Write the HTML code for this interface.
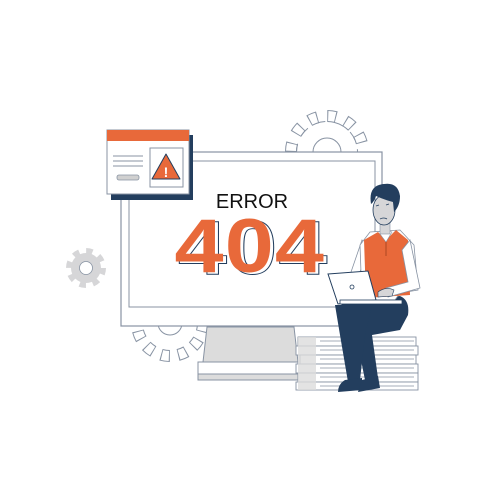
<!DOCTYPE html>
<html><head><style>html,body{margin:0;padding:0;background:#fff}svg{display:block}</style></head>
<body>
<svg width="500" height="500" viewBox="0 0 500 500" xmlns="http://www.w3.org/2000/svg" font-family="Liberation Sans, sans-serif">
<!-- top gear -->
<g>
<circle cx="327" cy="152" r="36" fill="none" stroke="#8893a3" stroke-width="12" stroke-dasharray="9 9.85"/>
<circle cx="327" cy="152" r="36" fill="none" stroke="#fff" stroke-width="10" stroke-dasharray="7 11.85" stroke-dashoffset="-1"/>
<circle cx="327" cy="152" r="30.5" fill="none" stroke="#8893a3" stroke-width="1" stroke-dasharray="9.8 9.05"/>
<circle cx="327" cy="152" r="29.5" fill="#fff"/>
<circle cx="327" cy="152" r="14" fill="#fff" stroke="#8893a3" stroke-width="1"/>
</g>
<!-- bottom gear -->
<g>
<circle cx="170" cy="323" r="33" fill="none" stroke="#8893a3" stroke-width="12" stroke-dasharray="9 8.3"/>
<circle cx="170" cy="323" r="33" fill="none" stroke="#fff" stroke-width="10" stroke-dasharray="7 10.3" stroke-dashoffset="-1"/>
<circle cx="170" cy="323" r="26.5" fill="#fff"/>
<circle cx="170" cy="323" r="12" fill="#fff" stroke="#8893a3" stroke-width="1"/>
</g>
<!-- small gear -->
<circle cx="86" cy="268" r="16" fill="none" stroke="#d6d6d8" stroke-width="8" stroke-dasharray="6 6.57"/>
<circle cx="86" cy="268" r="15" fill="#d6d6d8"/>
<circle cx="86" cy="268" r="6.5" fill="#fff" stroke="#8893a3" stroke-width="0.8"/>
<!-- monitor -->
<rect x="121" y="152" width="261" height="174" fill="#fff" stroke="#8893a3" stroke-width="1.2"/>
<rect x="129" y="161" width="246" height="146" fill="#fff" stroke="#8893a3" stroke-width="1"/>
<polygon points="207,327 294,327 298,362 203,362" fill="#dcdcdc" stroke="#8893a3" stroke-width="1"/>
<rect x="198" y="362" width="100" height="12" fill="#fff" stroke="#8893a3" stroke-width="1"/>
<rect x="198" y="374" width="100" height="6" fill="#dcdcdc" stroke="#8893a3" stroke-width="1"/>
<!-- popup -->
<rect x="111" y="135" width="82" height="65" fill="#233e5e"/>
<rect x="107" y="130" width="82" height="64" fill="#fff" stroke="#8893a3" stroke-width="1"/>
<rect x="107" y="130" width="82" height="11" fill="#e8693a"/>
<line x1="113" y1="156" x2="143" y2="156" stroke="#8893a3"/>
<line x1="113" y1="161" x2="143" y2="161" stroke="#8893a3"/>
<line x1="113" y1="166" x2="143" y2="166" stroke="#8893a3"/>
<rect x="117" y="175" width="22" height="5" rx="2" fill="#d0d0d0" stroke="#8893a3" stroke-width="0.8"/>
<rect x="150" y="148" width="33" height="39" fill="#fff" stroke="#8893a3" stroke-width="1"/>
<polygon points="166,154 180,179 152,179" fill="#e8693a" stroke="#233e5e" stroke-width="1" stroke-linejoin="round"/>
<text x="166" y="177" font-size="14" font-weight="bold" fill="#fff" text-anchor="middle">!</text>
<!-- text -->
<text x="252" y="208" font-size="20" fill="#111" text-anchor="middle">ERROR</text>
<g transform="translate(251 0) scale(1.16 1) translate(-251 0)">
<text x="253" y="274" font-size="76" font-weight="bold" fill="#fff" stroke="#233e5e" stroke-width="0.9" text-anchor="middle" letter-spacing="1">404</text>
<text x="250" y="272" font-size="76" font-weight="bold" fill="#e8693a" text-anchor="middle" letter-spacing="1">404</text>
</g>
<!-- books -->
<g fill="#fff" stroke="#8893a3" stroke-width="0.9">
<rect x="298" y="337" width="118" height="9"/>
<rect x="296" y="346" width="122" height="9"/>
<rect x="300" y="355" width="116" height="9"/>
<rect x="296" y="364" width="122" height="9"/>
<rect x="298" y="373" width="120" height="9"/>
<rect x="296" y="382" width="122" height="8"/>
</g>
<rect x="298" y="337" width="18" height="53" fill="#dcdcdc" opacity="0.8"/>
<g stroke="#8893a3" stroke-width="0.7">
<line x1="320" y1="341" x2="414" y2="341"/><line x1="320" y1="350" x2="414" y2="350"/><line x1="320" y1="359" x2="414" y2="359"/>
<line x1="320" y1="368" x2="414" y2="368"/><line x1="320" y1="377" x2="414" y2="377"/><line x1="320" y1="386" x2="414" y2="386"/>
</g>
<!-- person -->
<path d="M362 240 L350 275 L358 278 L368 248Z" fill="#fff" stroke="#8893a3" stroke-width="0.8"/>
<path d="M340 302 L400 296 Q410 300 408 315 L400 330 L372 335 L378 378 L365 380 L355 330 Z" fill="#233e5e"/>
<path d="M335 305 L372 305 L365 335 L360 380 L348 382 L340 335 Z" fill="#233e5e"/>
<path d="M345 380 L362 378 L362 390 L338 392 Q338 384 345 380Z" fill="#233e5e"/>
<path d="M362 380 L378 376 L380 388 L358 392Z" fill="#233e5e"/>
<path d="M370 232 L400 230 L414 245 L418 290 L400 293 L395 300 L362 300 L360 245 Z" fill="#fff" stroke="#8893a3" stroke-width="0.8"/>
<path d="M364 240 L378 232 L386 240 L396 230 L408 240 L410 295 L366 298 Z" fill="#e8693a"/>
<polygon points="380,234 386,242 392,232 386,230" fill="#fff" stroke="#8893a3" stroke-width="0.6"/>
<line x1="386" y1="242" x2="386" y2="256" stroke="#c0522a" stroke-width="1.5"/>
<path d="M410 240 L420 288 L388 297 L386 288 L408 282 L402 250Z" fill="#fff" stroke="#8893a3" stroke-width="0.8"/>
<polygon points="328,274 368,271 376,300 338,304" fill="#fff" stroke="#233e5e" stroke-width="1"/>
<rect x="340" y="300" width="62" height="4" fill="#fff" stroke="#233e5e" stroke-width="0.8"/>
<circle cx="352" cy="287" r="2" fill="none" stroke="#233e5e" stroke-width="0.8"/>
<path d="M378 292 Q386 286 394 290 L392 296 L378 297Z" fill="#d6d6d8" stroke="#233e5e" stroke-width="0.6"/>
<rect x="380" y="222" width="10" height="12" fill="#d6d6d8" stroke="#8893a3" stroke-width="0.6"/>
<ellipse cx="384" cy="210" rx="11" ry="15" fill="#d6d6d8" stroke="#233e5e" stroke-width="0.8"/>
<path d="M371 204 Q368 185 384 184 Q398 182 400 196 Q400 206 394 212 L393 202 Q385 200 376 196 Q374 202 371 204Z" fill="#233e5e"/>
<path d="M376 206 l3 -1 M386 205 l3 -1" stroke="#233e5e" stroke-width="0.8"/>
<path d="M380 219 q4 -2 7 0" fill="none" stroke="#233e5e" stroke-width="0.8"/>
</svg>
</body></html>
